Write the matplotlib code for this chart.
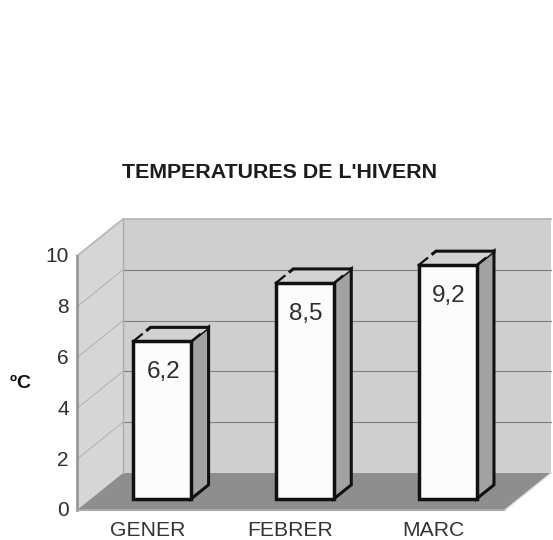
import matplotlib
matplotlib.use('Agg')
import matplotlib.pyplot as plt
from matplotlib.patches import Polygon

plt.rcParams['font.family'] = ['Liberation Sans', 'DejaVu Sans']

months = ['GENER', 'FEBRER', 'MARC']
temps = [6.2, 8.5, 9.2]
labels = ['6,2', '8,5', '9,2']
yticks = [0, 2, 4, 6, 8, 10]

# one unit of value / category in pixels
px_y = 25.4
px_x = 142.7
y0 = 510
x0 = 148.3

fig = plt.figure(figsize=(5.53, 5.40), dpi=100)
ax = fig.add_axes([0, 0, 1, 1])
ax.set_xlim(-x0 / px_x, (553 - x0) / px_x)
ax.set_ylim((y0 - 540) / px_y, y0 / px_y)
ax.axis('off')

# depth of the chart box, in data units
depth_x = 46 / px_x
depth_y = 37 / px_y
left = -0.5
right = 2.5


def poly(pts, **kw):
    ax.add_patch(Polygon(pts, closed=True, **kw))


def dp(x, v, d):
    # point at depth d (0 front, 1 back wall)
    return (x + d * depth_x, v + d * depth_y)


# back wall, side wall, floor
poly([dp(left, 0, 1), dp(right, 0, 1), dp(right, 10, 1), dp(left, 10, 1)],
     fc='#cfcfcf', ec='none', zorder=1)
poly([dp(left, 0, 0), dp(left, 0, 1), dp(left, 10, 1), dp(left, 10, 0)],
     fc='#d6d6d6', ec='none', zorder=1)
poly([dp(left, 0, 0), dp(right, 0, 0), dp(right, 0, 1), dp(left, 0, 1)],
     fc='#8e8e8e', ec='none', zorder=2)

for v in yticks[1:-1]:
    ax.plot(*zip(dp(left, v, 1), dp(right, v, 1)), color='#808080', lw=0.8, zorder=2)
    ax.plot(*zip(dp(left, v, 0), dp(left, v, 1)), color='#b0b0b0', lw=0.7, zorder=2)

ax.plot(*zip(dp(left, 10, 0), dp(left, 10, 1), dp(right, 10, 1)), color='#b4b4b4', lw=1.2, zorder=2)
ax.plot(*zip(dp(left, 0, 1), dp(left, 10, 1)), color='#adadad', lw=1, zorder=2)
ax.plot(*zip(dp(left, 0, 0), dp(left, 10, 0)), color='#999999', lw=2, zorder=3)
ax.plot(*zip(dp(left, 0, 0), dp(right, 0, 0)), color='#a8a8a8', lw=1.5, zorder=3)
ax.plot(*zip(dp(right, 0, 0), dp(right, 0, 1)), color='#dddddd', lw=1, zorder=3)

# bars
half = 29 / px_x
d_front = 0.3
d_back = 0.68
for i, t in enumerate(temps):
    a, b = i - half, i + half
    poly([dp(a, 0, d_front), dp(b, 0, d_front), dp(b, t, d_front), dp(a, t, d_front)],
         fc='#fcfcfc', ec='#111111', lw=2.5, joinstyle='miter', zorder=6)
    poly([dp(b, 0, d_front), dp(b, 0, d_back), dp(b, t, d_back), dp(b, t, d_front)],
         fc='#a2a2a2', ec='#111111', lw=2.2, joinstyle='miter', zorder=5)
    poly([dp(a, t, d_front), dp(b, t, d_front), dp(b, t, d_back), dp(a, t, d_back)],
         fc='#d2d2d2', ec='none', zorder=5)
    # top edges, the diagonals are only partly visible
    ax.plot(*zip(dp(a, t, (d_front + d_back) / 2 + 0.12), dp(a, t, d_back), dp(b, t, d_back)),
            color='#111111', lw=2.2, solid_joinstyle='miter', zorder=5)
    ax.plot(*zip(dp(a, t, d_front), dp(a, t, (d_front + d_back) / 2)), color='#111111', lw=1.6, zorder=5)
    ax.plot(*zip(dp(b, t, d_front), dp(b, t, (d_front + d_back) / 2)), color='#111111', lw=1.6, zorder=5)
    xm = dp(i, t, d_front)
    ax.text(xm[0] + 1 / px_x, xm[1] - 31 / px_y, labels[i], ha='center', va='center',
            fontsize=17.5, color='#2e2e2e', zorder=7)

for v in yticks:
    ax.text(left - 8 / px_x, v - 1 / px_y, str(v), ha='right', va='center',
            fontsize=15, color='#2e2e2e')

for i, m in enumerate(months):
    ax.text(i - 0.005, -21 / px_y, m, ha='center', va='center', fontsize=15.2, color='#333333')

ax.text(-132 / px_x, (y0 - 383) / px_y, 'º', ha='right', va='center',
        fontsize=14, fontweight='bold', color='#111111')
ax.text(-132 / px_x, (y0 - 383) / px_y, 'C', ha='left', va='center',
        fontsize=14, fontweight='bold', color='#111111')
ax.text((280 - x0) / px_x, (y0 - 172) / px_y, "TEMPERATURES DE L'HIVERN", ha='center', va='center',
        fontsize=15.4, fontweight='bold', color='#1c1c1c')

fig.savefig('out.png', dpi=100)
